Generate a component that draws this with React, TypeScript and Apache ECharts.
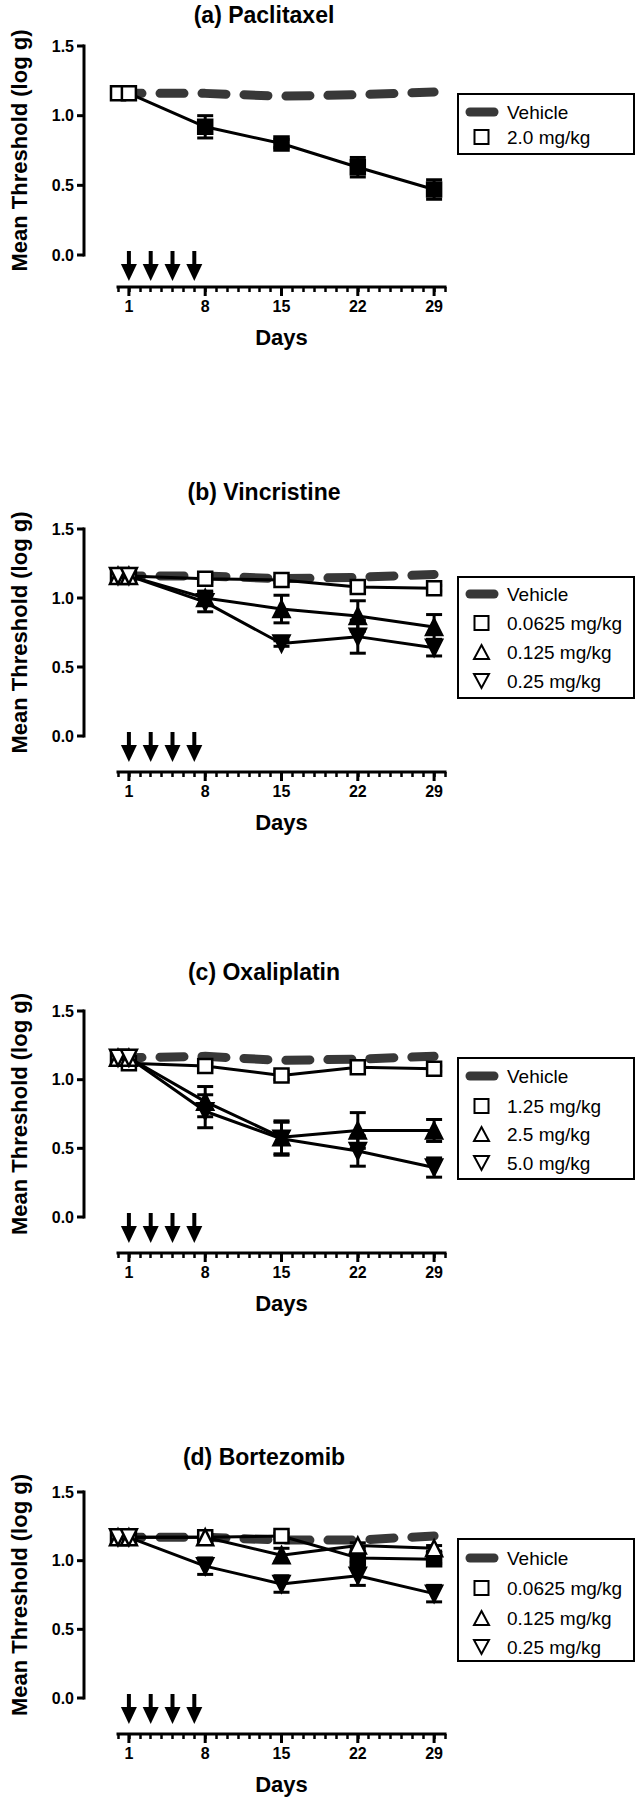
import React, { useEffect, useRef } from 'react';
import * as echarts from 'echarts';

// ---------- data ----------
const days = [0, 1, 8, 15, 22, 29];
const dayTicks = [1, 8, 15, 22, 29];
const yTickValues = [0, 0.5, 1.0, 1.5];
const doseDays = [1, 3, 5, 7];
const panelTitles = ['(a) Paclitaxel', '(b) Vincristine', '(c) Oxaliplatin', '(d) Bortezomib'];
const yAxisTitle = 'Mean Threshold (log g)';
const xAxisTitle = 'Days';

// (a) Paclitaxel
const aVehicle = [1.16, 1.16, 1.16, 1.14, 1.15, 1.17];
const aDose20 = [1.16, 1.16, 0.92, 0.80, 0.63, 0.47];
const aDose20Err = [0, 0, 0.08, 0.03, 0.07, 0.07];
const aDose20Sig = [0, 0, 1, 1, 1, 1];

// (b) Vincristine
const bVehicle = [1.16, 1.16, 1.16, 1.14, 1.15, 1.17];
const bLow = [1.16, 1.16, 1.14, 1.13, 1.08, 1.07];
const bLowErr = [0, 0, 0.02, 0.02, 0.03, 0.02];
const bLowSig = [0, 0, 0, 0, 0, 0];
const bMid = [1.16, 1.16, 1.0, 0.92, 0.87, 0.79];
const bMidErr = [0, 0, 0.05, 0.1, 0.11, 0.09];
const bMidSig = [0, 0, 1, 1, 1, 1];
const bHigh = [1.16, 1.16, 0.97, 0.67, 0.72, 0.64];
const bHighErr = [0, 0, 0.07, 0.02, 0.12, 0.06];
const bHighSig = [0, 0, 1, 1, 1, 1];

// (c) Oxaliplatin
const cVehicle = [1.16, 1.16, 1.17, 1.14, 1.15, 1.17];
const cLow = [1.16, 1.12, 1.1, 1.03, 1.09, 1.08];
const cLowErr = [0, 0, 0.02, 0.03, 0.02, 0.02];
const cLowSig = [0, 0, 0, 0, 0, 0];
const cMid = [1.16, 1.16, 0.84, 0.58, 0.63, 0.63];
const cMidErr = [0, 0, 0.11, 0.12, 0.13, 0.08];
const cMidSig = [0, 0, 1, 1, 1, 1];
const cHigh = [1.16, 1.16, 0.77, 0.57, 0.48, 0.36];
const cHighErr = [0, 0, 0.12, 0.12, 0.11, 0.07];
const cHighSig = [0, 0, 1, 1, 1, 1];

// (d) Bortezomib
const dVehicle = [1.17, 1.17, 1.17, 1.15, 1.15, 1.18];
const dLow = [1.17, 1.17, 1.17, 1.18, 1.02, 1.01];
const dLowErr = [0, 0, 0.02, 0.02, 0.03, 0.03];
const dLowSig = [0, 0, 0, 0, 1, 1];
const dMid = [1.17, 1.17, 1.17, 1.04, 1.11, 1.09];
const dMidErr = [0, 0, 0.02, 0.05, 0.02, 0.02];
const dMidSig = [0, 0, 0, 1, 0, 0];
const dHigh = [1.17, 1.17, 0.96, 0.83, 0.89, 0.76];
const dHighErr = [0, 0, 0.06, 0.06, 0.07, 0.06];
const dHighSig = [0, 0, 1, 1, 1, 1];

// ---------- structure ----------
type Kind = 'vehicle' | 'square' | 'up' | 'down';
type Group = { label: string; kind: Kind; mean: number[]; err?: number[]; sig?: number[] };

const panels: { title: string; groups: Group[] }[] = [
  {
    title: panelTitles[0],
    groups: [
      { label: 'Vehicle', kind: 'vehicle', mean: aVehicle },
      { label: '2.0 mg/kg', kind: 'square', mean: aDose20, err: aDose20Err, sig: aDose20Sig },
    ],
  },
  {
    title: panelTitles[1],
    groups: [
      { label: 'Vehicle', kind: 'vehicle', mean: bVehicle },
      { label: '0.0625 mg/kg', kind: 'square', mean: bLow, err: bLowErr, sig: bLowSig },
      { label: '0.125 mg/kg', kind: 'up', mean: bMid, err: bMidErr, sig: bMidSig },
      { label: '0.25 mg/kg', kind: 'down', mean: bHigh, err: bHighErr, sig: bHighSig },
    ],
  },
  {
    title: panelTitles[2],
    groups: [
      { label: 'Vehicle', kind: 'vehicle', mean: cVehicle },
      { label: '1.25 mg/kg', kind: 'square', mean: cLow, err: cLowErr, sig: cLowSig },
      { label: '2.5 mg/kg', kind: 'up', mean: cMid, err: cMidErr, sig: cMidSig },
      { label: '5.0 mg/kg', kind: 'down', mean: cHigh, err: cHighErr, sig: cHighSig },
    ],
  },
  {
    title: panelTitles[3],
    groups: [
      { label: 'Vehicle', kind: 'vehicle', mean: dVehicle },
      { label: '0.0625 mg/kg', kind: 'square', mean: dLow, err: dLowErr, sig: dLowSig },
      { label: '0.125 mg/kg', kind: 'up', mean: dMid, err: dMidErr, sig: dMidSig },
      { label: '0.25 mg/kg', kind: 'down', mean: dHigh, err: dHighErr, sig: dHighSig },
    ],
  },
];

// ---------- layout (pixels) ----------
const layouts = [
  { title: 15, top: 46, height: 209, axisY: 287, legendTop: 94, legendH: 60, rows: [18, 43] },
  { title: 492, top: 529, height: 207, axisY: 772, legendTop: 577, legendH: 121, rows: [17, 46, 75, 104] },
  { title: 972, top: 1011, height: 206, axisY: 1253, legendTop: 1058, legendH: 121, rows: [18, 48, 76, 105] },
  { title: 1457, top: 1492, height: 206, axisY: 1734, legendTop: 1539, legendH: 122, rows: [19, 49, 79, 108] },
];
const GRID_LEFT = 117;
const GRID_WIDTH = 328;
const YAXIS_X = 83;
const Y_OFFSET = GRID_LEFT - YAXIS_X;
const X_MIN = 0;
const X_MAX = 30;
const Y_MIN = 0;
const Y_MAX = 1.5;
const FONT = '"Liberation Sans", Arial, Helvetica, sans-serif';
const VEH = '#383838';

function buildOption() {
  const grid: any[] = [];
  const xAxis: any[] = [];
  const yAxis: any[] = [];
  const series: any[] = [];

  panels.forEach((p, i) => {
    const L = layouts[i];
    const xOff = L.axisY - (L.top + L.height);
    grid.push({ left: GRID_LEFT, width: GRID_WIDTH, top: L.top, height: L.height });

    xAxis.push({
      type: 'value', gridIndex: i, min: X_MIN, max: X_MAX, position: 'bottom', offset: xOff,
      axisLine: { show: false, onZero: false },
      axisTick: { show: false },
      axisLabel: { customValues: dayTicks, margin: 11, color: '#000', fontWeight: 'bold', fontSize: 16, fontFamily: FONT },
      splitLine: { show: false },
      name: xAxisTitle, nameLocation: 'middle', nameGap: 39,
      nameTextStyle: { color: '#000', fontWeight: 'bold', fontSize: 22, fontFamily: FONT },
    });
    xAxis.push({
      type: 'value', gridIndex: i, min: X_MIN, max: X_MAX, interval: 1, position: 'bottom', offset: xOff,
      axisLine: { show: false, onZero: false },
      axisTick: { show: true, length: 5, lineStyle: { color: '#000', width: 2.5 } },
      axisLabel: { show: false },
      splitLine: { show: false },
    });
    yAxis.push({
      type: 'value', gridIndex: i, min: Y_MIN, max: Y_MAX, interval: 0.5, position: 'left', offset: Y_OFFSET,
      axisLine: { show: false, onZero: false },
      axisTick: { show: false },
      axisLabel: { margin: 10, color: '#000', fontWeight: 'bold', fontSize: 16, fontFamily: FONT, formatter: (v: number) => v.toFixed(1) },
      splitLine: { show: false },
      name: yAxisTitle, nameLocation: 'middle', nameGap: 54,
      nameTextStyle: { color: '#000', fontWeight: 'bold', fontSize: 22, fontFamily: FONT },
    });
    const xIdx = 2 * i;
    const yIdx = i;

    // dosing arrows
    series.push({
      type: 'custom', xAxisIndex: xIdx, yAxisIndex: yIdx, clip: false, z: 5, silent: true,
      data: doseDays.map((d) => [d, 0]),
      renderItem: (_params: any, api: any) => {
        const c = api.coord([api.value(0), api.value(1)]);
        const x = c[0];
        const y0 = c[1];
        return {
          type: 'group',
          children: [
            { type: 'line', shape: { x1: x, y1: y0 - 4, x2: x, y2: y0 + 12 }, style: { stroke: '#000', lineWidth: 4 } },
            { type: 'polygon', shape: { points: [[x - 8, y0 + 9], [x + 8, y0 + 9], [x, y0 + 26]] }, style: { fill: '#000' } },
          ],
        };
      },
    });

    p.groups.forEach((g) => {
      if (g.kind === 'vehicle') {
        series.push({
          type: 'line', name: g.label, xAxisIndex: xIdx, yAxisIndex: yIdx, z: 2,
          data: days.map((d, k) => [d, g.mean[k]]),
          symbol: 'none',
          lineStyle: { color: VEH, width: 9, type: [24, 18], cap: 'round' },
        });
        return;
      }
      const errData = days
        .map((d, k) => [d, g.mean[k], (g.err as number[])[k]])
        .filter((r) => r[2] > 0);
      series.push({
        type: 'custom', xAxisIndex: xIdx, yAxisIndex: yIdx, clip: false, z: 3, silent: true,
        data: errData,
        encode: { x: 0, y: 1 },
        renderItem: (_params: any, api: any) => {
          const x = api.value(0), m = api.value(1), e = api.value(2);
          const t = api.coord([x, m + e]);
          const b = api.coord([x, m - e]);
          const hw = 8;
          const st = { stroke: '#000', lineWidth: 3 };
          return {
            type: 'group',
            children: [
              { type: 'line', shape: { x1: t[0], y1: t[1], x2: b[0], y2: b[1] }, style: st },
              { type: 'line', shape: { x1: t[0] - hw, y1: t[1], x2: t[0] + hw, y2: t[1] }, style: st },
              { type: 'line', shape: { x1: b[0] - hw, y1: b[1], x2: b[0] + hw, y2: b[1] }, style: st },
            ],
          };
        },
      });
      const sym = g.kind === 'square' ? 'rect' : 'triangle';
      series.push({
        type: 'line', name: g.label, xAxisIndex: xIdx, yAxisIndex: yIdx, z: 4,
        data: days.map((d, k) => ({
          value: [d, g.mean[k]],
          itemStyle: { color: (g.sig as number[])[k] ? '#000' : '#fff' },
        })),
        symbol: sym,
        symbolRotate: g.kind === 'down' ? 180 : 0,
        symbolSize: g.kind === 'square' ? 14 : 16,
        showSymbol: true,
        itemStyle: { borderColor: '#000', borderWidth: 2.5 },
        lineStyle: { color: '#000', width: 3 },
      });
    });
  });

  return {
    animation: false,
    backgroundColor: '#fff',
    textStyle: { fontFamily: FONT },
    grid, xAxis, yAxis, series,
  };
}

// titles, legends and axis frames (frame positions taken from the chart's own scales)
function buildGraphic(chart: any) {
  const graphic: any[] = [];
  panels.forEach((p, i) => {
    const L = layouts[i];
    const xOff = L.axisY - (L.top + L.height);
    const finder = { xAxisIndex: 2 * i, yAxisIndex: i };
    const px = (x: number, y: number, fbx: number, fby: number) => {
      const r = chart.convertToPixel(finder, [x, y]);
      return r && isFinite(r[0]) && isFinite(r[1]) ? r : [fbx, fby];
    };
    const origin = px(X_MIN, Y_MIN, GRID_LEFT, L.top + L.height);
    const top = px(X_MIN, Y_MAX, GRID_LEFT, L.top);
    const right = px(X_MAX, Y_MIN, GRID_LEFT + GRID_WIDTH, L.top + L.height);
    const ax = origin[0] - Y_OFFSET;
    const ay = origin[1] + xOff;
    const fill = { fill: '#000' };
    const frame: any[] = [
      // y axis line
      { type: 'rect', shape: { x: ax - 1.5, y: top[1] - 1.5, width: 3, height: origin[1] - top[1] + 3 }, style: fill },
      // x axis line
      { type: 'rect', shape: { x: origin[0] - 1.5, y: ay - 1.5, width: right[0] - origin[0] + 3, height: 3 }, style: fill },
    ];
    yTickValues.forEach((v) => {
      const c = px(X_MIN, v, GRID_LEFT, L.top + L.height - (v / Y_MAX) * L.height);
      frame.push({ type: 'rect', shape: { x: ax - 7, y: c[1] - 1.5, width: 7, height: 3 }, style: fill });
    });
    dayTicks.forEach((d) => {
      const c = px(d, Y_MIN, GRID_LEFT + (d / X_MAX) * GRID_WIDTH, L.top + L.height);
      frame.push({ type: 'rect', shape: { x: c[0] - 1.5, y: ay, width: 3, height: 9 }, style: fill });
    });
    graphic.push({ type: 'group', children: frame });

    graphic.push({
      type: 'text', x: 264, y: L.title,
      style: { text: p.title, align: 'center', verticalAlign: 'middle', fontSize: 23, fontWeight: 'bold', fontFamily: FONT, fill: '#000' },
    });

    const children: any[] = [
      { type: 'rect', shape: { x: 0, y: 0, width: 176, height: L.legendH }, style: { fill: '#fff', stroke: '#000', lineWidth: 2 } },
    ];
    p.groups.forEach((g, k) => {
      const y = L.rows[k];
      if (g.kind === 'vehicle') {
        children.push({ type: 'line', shape: { x1: 12, y1: y, x2: 36, y2: y }, style: { stroke: VEH, lineWidth: 9, lineCap: 'round' } });
      } else if (g.kind === 'square') {
        children.push({ type: 'rect', shape: { x: 16.5, y: y - 7, width: 14, height: 14 }, style: { fill: '#fff', stroke: '#000', lineWidth: 2 } });
      } else if (g.kind === 'up') {
        children.push({ type: 'polygon', shape: { points: [[23.5, y - 7], [31, y + 7], [16, y + 7]] }, style: { fill: '#fff', stroke: '#000', lineWidth: 2 } });
      } else {
        children.push({ type: 'polygon', shape: { points: [[16, y - 7], [31, y - 7], [23.5, y + 7]] }, style: { fill: '#fff', stroke: '#000', lineWidth: 2 } });
      }
      children.push({
        type: 'text', x: 49, y,
        style: { text: g.label, verticalAlign: 'middle', align: 'left', fontSize: 19, fontFamily: FONT, fill: '#000' },
      });
    });
    graphic.push({ type: 'group', x: 458, y: L.legendTop, children });
  });
  return graphic;
}

export default function App() {
  const ref = useRef<HTMLDivElement>(null);
  useEffect(() => {
    document.body.style.margin = '0';
    if (!ref.current) return;
    const chart = echarts.init(ref.current, undefined, { renderer: 'svg' });
    chart.setOption(buildOption() as any);
    chart.setOption({ graphic: buildGraphic(chart) } as any);
    return () => chart.dispose();
  }, []);
  return <div ref={ref} style={{ width: 640, height: 1800, background: '#fff' }} />;
}
